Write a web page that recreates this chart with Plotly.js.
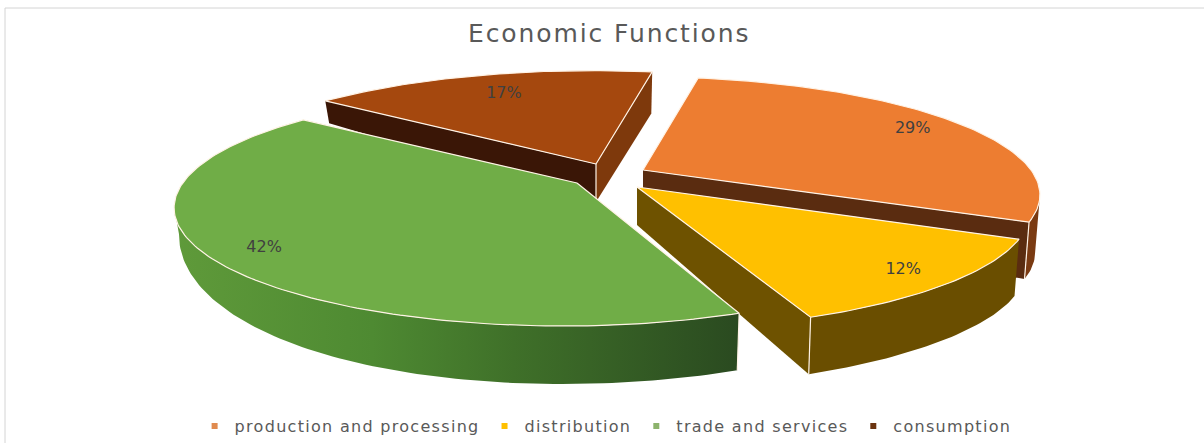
<!DOCTYPE html>
<html><head><meta charset="utf-8">
<script src="https://cdn.plot.ly/plotly-3.0.1.min.js"></script>
<style>
html,body{margin:0;padding:0;background:#fff}
.gtitle{letter-spacing:1.9px}
.legendtext{letter-spacing:1.3px}
</style></head><body>
<div id="chart" style="width:1204px;height:443px"></div>
<script>
// data
const categories = ['production and processing','distribution','trade and services','consumption'];
const values = [29,12,42,17];
const labels = ['29%','12%','42%','17%'];
const sliceColors = ['#ED7D31','#FFC000','#70AD47','#A5480E'];
const legendColors = ['#E08B4F','#FFC000','#8CB36C','#6B3410'];
const wallColors = ['#5A2C10','#6E5200','#5E9140','#7E390C'];
const rimColors = ['#7A3A12','#6A4E00','#4A7A33','#7E390C'];

// view set-up (styling of the fake 3D)
const startAngle = 10.5, k = 0.21, R = 392, T = 113;
const apex = [[643,170],[637,187],[577,183],[596,164]];
const rimShift = [-4,-8,-14,-3];
const rimScale = [1,1,0.97,1];
const labelR = [0.85,0.88,0.87,0.76];
const drawOrder = [3,0,1,2];
const whiteEdges = {0:['end'],1:['end'],2:['start'],3:['apex']};

function topPt(i,th,r){
  r = r===undefined?1:r;
  const a = th*Math.PI/180, X = r*Math.sin(a), Y = -r*Math.cos(a);
  const s = 1/(1-k*Y);
  return {x:apex[i][0]+rimShift[i]+R*rimScale[i]*X*s, y:apex[i][1]+T*Y*s, X, Y};
}
function bot(p){
  const f = Math.max(p.Y,0);
  return {x:p.x-5*p.X, y:p.y+38+20*p.X*(1-f)+20*f};
}
const total = values.reduce((a,b)=>a+b,0);
let acc = startAngle;
const spans = values.map(v=>{const s=[acc,acc+v/total*360];acc=s[1];return s;});

const traces = [];
function poly(pts,color,extra){
  traces.push(Object.assign({type:'scatter',mode:'lines',x:pts.map(p=>p.x),y:pts.map(p=>p.y),
    fill:'toself',fillcolor:color,line:{width:0,color:color},hoverinfo:'skip',showlegend:false},extra||{}));
}
function edge(a,b,color,w){
  traces.push({type:'scatter',mode:'lines',x:[a.x,b.x],y:[a.y,b.y],line:{width:w||1.2,color:color||'#FFF3E6'},hoverinfo:'skip',showlegend:false});
}
function wall(a,b,color,extra){ poly([a,b,bot(b),bot(a),a],color,extra); }

drawOrder.forEach(i=>{
  const [s,e] = spans[i];
  const ap = {x:apex[i][0],y:apex[i][1],X:0,Y:0};
  const rim = [];
  for(let t=s;t<e;t+=1) rim.push(topPt(i,t));
  rim.push(topPt(i,e));
  // outer wall: only the parts that face the viewer
  let seg = [];
  const flush = ()=>{
    if(seg.length>1){
      const pts = seg.concat(seg.slice().reverse().map(bot)); pts.push(seg[0]);
      const extra = i===2 ? {fillgradient:{type:'horizontal',colorscale:[[0,'#5F9A3A'],[0.35,'#4E8A32'],[0.6,'#3F7029'],[1,'#2A4A20']]}} : {};
      poly(pts,rimColors[i],extra);
    }
    seg = [];
  };
  for(let j=0;j<rim.length-1;j++){
    if(rim[j+1].x<rim[j].x){ if(!seg.length) seg.push(rim[j]); seg.push(rim[j+1]); }
    else flush();
  }
  flush();
  // straight walls
  const first = rim[0], last = rim[rim.length-1];
  if(last.x>ap.x) wall(last,ap,wallColors[i]);
  if(ap.x>first.x) wall(ap,first, i===3?'#3A1606':wallColors[i]);
  (whiteEdges[i]||[]).forEach(w=>{
    const p = w==='apex'?ap:(w==='end'?last:first);
    edge(p,bot(p));
  });
  // top face
  const pts = [ap].concat(rim,[ap]);
  poly(pts,sliceColors[i],{line:{width:1.2,color:'#FFF3E6'}});
});

// value labels
const lab = values.map((v,i)=>topPt(i,(spans[i][0]+spans[i][1])/2,labelR[i]));
traces.push({type:'scatter',mode:'text',x:lab.map(p=>p.x),y:lab.map(p=>p.y),text:labels,
  textfont:{family:'DejaVu Sans, sans-serif',size:16,color:'#404040'},textposition:'middle center',hoverinfo:'skip',showlegend:false});

// legend entries
categories.forEach((c,i)=>traces.push({type:'scatter',mode:'markers',name:c,x:[null],y:[null],
  marker:{symbol:'square',size:6,color:legendColors[i]},hoverinfo:'skip'}));

const layout = {
  width:1204,height:443,margin:{l:0,r:0,t:0,b:0},paper_bgcolor:'#fff',plot_bgcolor:'#fff',
  title:{text:'Economic Functions',x:0.506,xanchor:'center',y:0.925,yanchor:'middle',font:{family:'DejaVu Sans, sans-serif',size:25,color:'#595959'}},
  xaxis:{range:[0,1204],visible:false,fixedrange:true},
  yaxis:{range:[443,0],visible:false,fixedrange:true},
  legend:{orientation:'h',x:0.503,xanchor:'center',y:0.0,yanchor:'bottom',font:{family:'DejaVu Sans, sans-serif',size:16,color:'#595959'},bgcolor:'rgba(0,0,0,0)',traceorder:'normal'},
  shapes:[
    {type:'line',x0:5,x1:1204,y0:8,y1:8,line:{color:'#D4D4D4',width:1}},
    {type:'line',x0:5,x1:5,y0:8,y1:443,line:{color:'#D4D4D4',width:1}}
  ],
  showlegend:true
};
Plotly.newPlot('chart',traces,layout,{displayModeBar:false,staticPlot:true});
</script></body></html>
